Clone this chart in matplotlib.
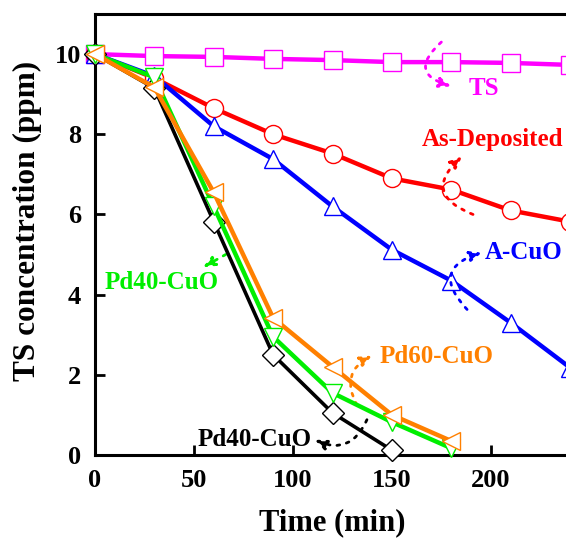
import matplotlib
matplotlib.use("Agg")
import matplotlib.pyplot as plt

plt.rcParams['font.family'] = ['Liberation Serif', 'DejaVu Serif']
plt.rcParams['font.weight'] = 'bold'

# data
time_long = [0, 30, 60, 90, 120, 150, 180, 210, 240]
ts_only = [10.0, 9.95, 9.93, 9.88, 9.85, 9.8, 9.8, 9.78, 9.73]
as_dep = [10.0, 9.4, 8.65, 8.0, 7.52, 6.9, 6.62, 6.1, 5.82]
a_cuo = [10.0, 9.45, 8.2, 7.38, 6.2, 5.12, 4.35, 3.3, 2.18]

time_pd60 = [0, 30, 60, 90, 120, 150, 180]
pd60 = [10.0, 9.17, 6.55, 3.42, 2.2, 1.0, 0.35]
time_pd40g = [0, 30, 60, 90, 120, 150, 180]
pd40_green = [10.0, 9.42, 6.2, 2.95, 1.55, 0.82, 0.17]
time_pd40k = [0, 30, 60, 90, 120, 150]
pd40_black = [10.0, 9.15, 5.82, 2.5, 1.05, 0.12]

fig = plt.figure(figsize=(5.66, 5.47), dpi=100)
ax = fig.add_axes([95 / 566, 92 / 547, 475 / 566, 441 / 547])

mk = dict(markerfacecolor='white', markersize=13, markeredgewidth=1.0, clip_on=False)
ax.plot(time_long, ts_only, color='#ff00ff', lw=3.2, marker='s', markeredgecolor='#ff00ff', zorder=3, **mk)
ax.plot(time_long, as_dep, color='#ff0000', lw=3.2, marker='o', markeredgecolor='#ff0000', zorder=3, **mk)
ax.plot(time_long, a_cuo, color='#0000ff', lw=3.2, marker='^', markeredgecolor='#0000ff', zorder=3, **mk)
ax.plot(time_pd40k, pd40_black, color='black', lw=2.6, marker='D', markeredgecolor='black',
        zorder=4, **dict(mk, markersize=11))
ax.plot(time_pd40g, pd40_green, color='#00ee00', lw=3.2, marker='v', markeredgecolor='#00ee00', zorder=5, **mk)
ax.plot(time_pd60, pd60, color='#ff8000', lw=3.2, marker='<', markeredgecolor='#ff8000', zorder=6, **mk)

ax.set_xlim(0, 240)
ax.set_ylim(0, 11)
ax.set_xticks([0, 50, 100, 150, 200])
ax.set_yticks([0, 2, 4, 6, 8, 10])
ax.tick_params(direction='in', length=7, width=2, labelsize=19, pad=10)
for lab in ax.get_xticklabels() + ax.get_yticklabels():
    lab.set_fontweight('bold')
for s in ax.spines.values():
    s.set_linewidth(2.2)

ax.set_xlabel('Time (min)', fontsize=22, fontweight='bold', labelpad=12)
ax.set_ylabel('TS concentration (ppm)', fontsize=22.5, fontweight='bold')
ax.yaxis.set_label_coords(-0.112, 0.53)


def note(text, color, txy, start, end, rad, ha='left'):
    ax.text(txy[0], txy[1], text, color=color, fontsize=18, fontweight='bold',
            ha=ha, va='center', clip_on=False)
    ax.annotate('', xy=end, xytext=start,
                arrowprops=dict(arrowstyle='-|>,head_length=0.7,head_width=0.3', color=color,
                                lw=2, linestyle=(0, (1, 2.5)), shrinkA=0, shrinkB=0,
                                connectionstyle='arc3,rad=%s' % rad))


note('TS', '#ff00ff', (189, 9.13), (175, 10.3), (180, 9.2), 0.9)
note('As-Deposited', '#ff0000', (236.5, 7.88), (191, 6.0), (185.5, 7.45), -0.8, ha='right')
note('A-CuO', '#0000ff', (197, 5.05), (188, 3.63), (195.5, 5.05), -0.8)
note('Pd60-CuO', '#ff8000', (144, 2.45), (132.3, 1.25), (140, 2.48), -0.5)
note('Pd40-CuO', '#00ee00', (5, 4.3), (66, 5.0), (54.5, 4.68), 0.0)
note('Pd40-CuO', 'black', (52, 0.38), (137.4, 0.88), (111, 0.38), -0.5)

fig.savefig('out.png', dpi=100)
